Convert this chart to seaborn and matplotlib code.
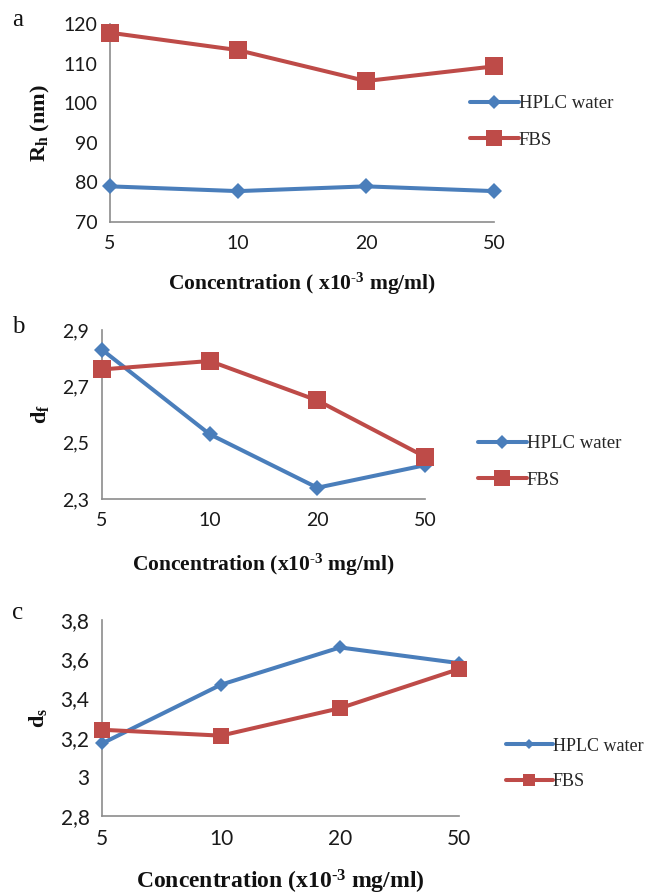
import matplotlib
matplotlib.use("Agg")
import matplotlib.pyplot as plt
from matplotlib.lines import Line2D
from matplotlib.ticker import FixedLocator, FuncFormatter
import numpy as np
import pandas as pd
import seaborn as sns

# ---- data ----
concentrations = ["5", "10", "20", "50"]
series_names = ["HPLC water", "FBS"]

rh_water = [79.0, 77.8, 79.0, 77.8]
rh_fbs = [117.8, 113.4, 105.6, 109.3]

df_water = [2.83, 2.53, 2.34, 2.42]
df_fbs = [2.76, 2.79, 2.65, 2.45]

ds_water = [3.17, 3.47, 3.66, 3.58]
ds_fbs = [3.24, 3.21, 3.35, 3.55]

rh_ticks = [70, 80, 90, 100, 110, 120]
df_ticks = [2.3, 2.5, 2.7, 2.9]
ds_ticks = [2.8, 3.0, 3.2, 3.4, 3.6, 3.8]

# ---- style ----
sns.set_style("white")
plt.rcParams["font.family"] = ["Lato", "DejaVu Sans"]
plt.rcParams["mathtext.fontset"] = "custom"
plt.rcParams["mathtext.rm"] = "Liberation Serif"
plt.rcParams["mathtext.it"] = "Liberation Serif:italic"
plt.rcParams["mathtext.bf"] = "Liberation Serif:bold"

BLUE = "#4A7EBB"
RED = "#BE4B48"
SPINE = "#8C8C8C"
SERIF = "Liberation Serif"
HYPHEN = "\u2010"

W, H = 654, 896
fig = plt.figure(figsize=(W / 100, H / 100), dpi=100)


def px_axes(left, right, top, bottom):
    return fig.add_axes([left / W, 1 - bottom / H, (right - left) / W, (bottom - top) / H])


def comma_fmt(v, _pos):
    if abs(v - round(v)) < 1e-9:
        return f"{int(round(v))}"
    return f"{v:.1f}".replace(".", ",")


def conc_label(space=""):
    return "Concentration (" + space + "x10$^{\\mathbf{" + HYPHEN + "3}}$ mg/ml)"


def draw_panel(ax, water, fbs, ticks, ylabel, xlabel, letter, legend_xy,
               tick_size=14, xlabel_size=15.5, water_ms=8.5, fbs_ms=13,
               leg_water_ms=7, leg_fbs_ms=11, legend_size=13.5, xlabel_pad=16):
    pos = np.arange(len(concentrations))
    data = pd.DataFrame({
        "pos": np.concatenate([pos, pos]),
        "value": list(water) + list(fbs),
        "medium": [series_names[0]] * len(water) + [series_names[1]] * len(fbs),
    })
    sns.lineplot(data=data[data.medium == series_names[0]], x="pos", y="value",
                 color=BLUE, lw=2.9, marker="D", markersize=water_ms,
                 markeredgewidth=0, ax=ax, legend=False, zorder=3, clip_on=False)
    sns.lineplot(data=data[data.medium == series_names[1]], x="pos", y="value",
                 color=RED, lw=2.9, marker="s", markersize=fbs_ms,
                 markeredgewidth=0, ax=ax, legend=False, zorder=4, clip_on=False)

    ax.set_xlim(0, len(concentrations) - 1)
    ax.set_ylim(ticks[0], ticks[-1])
    ax.xaxis.set_major_locator(FixedLocator(pos))
    ax.set_xticklabels(concentrations)
    ax.yaxis.set_major_locator(FixedLocator(ticks))
    ax.yaxis.set_major_formatter(FuncFormatter(comma_fmt))

    for side in ("top", "right"):
        ax.spines[side].set_visible(False)
    for side in ("left", "bottom"):
        ax.spines[side].set_color(SPINE)
        ax.spines[side].set_linewidth(1.2)
        ax.spines[side].set_zorder(1)
    ax.tick_params(axis="both", which="major", direction="in", length=6,
                   width=1.2, color=SPINE, labelsize=tick_size, labelcolor="#1a1a1a")
    ax.tick_params(axis="x", pad=9)
    ax.tick_params(axis="y", pad=9)
    ax.set_facecolor("none")

    ax.set_xlabel(xlabel, fontfamily=SERIF, fontweight="bold", fontsize=xlabel_size,
                  labelpad=xlabel_pad, color="#111111")
    ax.set_ylabel(ylabel, fontfamily=SERIF, fontweight="bold", fontsize=16,
                  labelpad=8, color="#111111")

    fig.text(12 / W, 1 - letter[1] / H, letter[0], fontfamily=SERIF,
             fontsize=18, va="center", ha="left", color="#111111")

    handles = [
        Line2D([], [], color=BLUE, lw=2.9, marker="D", markersize=leg_water_ms,
               markeredgewidth=0),
        Line2D([], [], color=RED, lw=2.9, marker="s", markersize=leg_fbs_ms,
               markeredgewidth=0),
    ]
    fig.legend(handles, series_names, loc="center left",
               bbox_to_anchor=(legend_xy[0] / W, 1 - legend_xy[1] / H),
               frameon=False, prop={"family": SERIF, "size": legend_size},
               handlelength=2.6, handletextpad=0.0, labelspacing=1.05,
               borderaxespad=0, borderpad=0)


ax_a = px_axes(110, 494, 24, 222)
draw_panel(ax_a, rh_water, rh_fbs, rh_ticks, r"R$_{\mathbf{h}}$ (nm)",
           conc_label(" "), ("a", 20), (470, 122), xlabel_pad=14)

ax_b = px_axes(102, 425, 330, 499)
draw_panel(ax_b, df_water, df_fbs, df_ticks, r"d$_{\mathbf{f}}$",
           conc_label(), ("b", 327), (478, 462), xlabel_pad=17)

ax_c = px_axes(102, 459, 620, 816)
draw_panel(ax_c, ds_water, ds_fbs, ds_ticks, r"d$_{\mathbf{s}}$",
           conc_label(), ("c", 613), (506, 764),
           tick_size=15, xlabel_size=17, water_ms=7, fbs_ms=11.5,
           leg_water_ms=5, leg_fbs_ms=9, legend_size=13, xlabel_pad=14)

fig.savefig("out.png", dpi=100, facecolor="white")
